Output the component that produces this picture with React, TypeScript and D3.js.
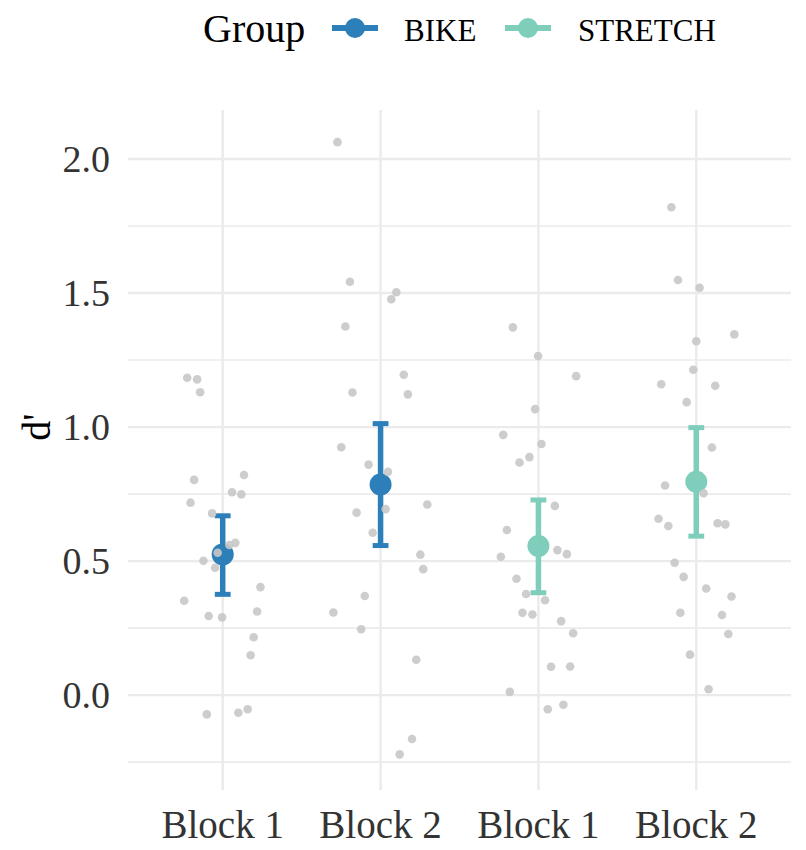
import * as d3 from "d3";

const WIDTH = 806;
const HEIGHT = 850;

const groups = ["BIKE", "STRETCH"];
const groupColors = ["#2c7fb8", "#7fcdbb"];

// one x slot per group x block, in plot order
const slots = ["BIKE-Block 1", "BIKE-Block 2", "STRETCH-Block 1", "STRETCH-Block 2"];
const slotLabels = ["Block 1", "Block 2", "Block 1", "Block 2"];
const slotGroup = ["BIKE", "BIKE", "STRETCH", "STRETCH"];

// summary values
const means = [0.525, 0.786, 0.556, 0.796];
const lower = [0.376, 0.558, 0.382, 0.593];
const upper = [0.669, 1.013, 0.728, 0.998];

// raw d' values per slot
const bikeBlock1 = [1.184, 1.178, 1.13, 0.803, 0.821, 0.757, 0.749, 0.718, 0.678, 0.568, 0.56, 0.531, 0.501, 0.475, 0.403, 0.352, 0.295, 0.29, 0.312, 0.216, 0.149, -0.072, -0.066, -0.053];
const bikeBlock2 = [2.063, 1.542, 1.503, 1.477, 1.375, 1.129, 1.195, 1.122, 0.925, 0.86, 0.833, 0.694, 0.681, 0.711, 0.606, 0.524, 0.47, 0.37, 0.308, 0.246, 0.132, -0.164, -0.221];
const stretchBlock1 = [1.372, 1.265, 1.19, 1.067, 0.971, 0.937, 0.888, 0.868, 0.706, 0.616, 0.541, 0.526, 0.516, 0.434, 0.377, 0.354, 0.307, 0.301, 0.276, 0.231, 0.106, 0.107, 0.012, -0.036, -0.053];
const stretchBlock2 = [1.82, 1.549, 1.52, 1.346, 1.32, 1.214, 1.16, 1.154, 1.093, 0.924, 0.782, 0.753, 0.658, 0.631, 0.641, 0.637, 0.494, 0.441, 0.398, 0.368, 0.307, 0.299, 0.228, 0.151, 0.022];

// horizontal jitter, as a fraction of the slot step
const jitBike1 = [-0.225, -0.162, -0.143, -0.181, 0.135, 0.059, 0.118, -0.204, -0.067, 0.08, 0.042, -0.032, -0.122, -0.048, 0.239, -0.244, -0.089, -0.004, 0.218, 0.196, 0.177, -0.101, 0.099, 0.158];
const jitBike2 = [-0.273, -0.194, 0.1, 0.068, -0.223, -0.178, 0.147, 0.173, -0.249, -0.076, 0.047, 0.032, -0.152, 0.296, -0.05, 0.252, 0.27, -0.1, -0.299, -0.123, 0.226, 0.199, 0.121];
const jitStretch1 = [-0.162, -0.002, 0.239, -0.021, -0.223, 0.019, -0.057, -0.12, 0.104, -0.2, 0.12, 0.18, -0.238, -0.139, -0.078, 0.042, -0.101, -0.038, 0.144, 0.22, 0.08, 0.201, -0.181, 0.158, 0.059];
const jitStretch2 = [-0.158, -0.116, 0.021, 0.241, 0, -0.019, -0.222, 0.12, -0.061, 0.099, -0.198, 0.046, -0.239, -0.177, 0.135, 0.184, -0.137, -0.08, 0.063, 0.223, -0.101, 0.163, 0.203, -0.04, 0.078];

const rawValues = [bikeBlock1, bikeBlock2, stretchBlock1, stretchBlock2];
const rawJitter = [jitBike1, jitBike2, jitStretch1, jitStretch2];

const yTicks = [0, 0.5, 1, 1.5, 2];
const yMinor = [-0.25, 0.25, 0.75, 1.25, 1.75];

const FONT = "'Liberation Serif', 'Times New Roman', serif";
const PANEL = { left: 128, right: 791, top: 110, bottom: 790 };

export default function App() {
  const x = d3
    .scalePoint<string>()
    .domain(slots)
    .range([PANEL.left, PANEL.right])
    .padding(0.6);
  const step = x.step();

  const y = d3.scaleLinear().domain([-0.354, 2.183]).range([PANEL.bottom, PANEL.top]);

  const color = d3.scaleOrdinal<string, string>().domain(groups).range(groupColors);

  const capHalf = step * 0.05;

  return (
    <svg width={WIDTH} height={HEIGHT} style={{ position: "absolute", left: 0, top: 0 }} fontFamily={FONT}>
      <rect width={WIDTH} height={HEIGHT} fill="#ffffff" />

      {/* grid */}
      <g>
        {yMinor.map((t) => (
          <line key={"mi" + t} x1={PANEL.left} x2={PANEL.right} y1={y(t)} y2={y(t)} stroke="#ebebeb" strokeWidth={1.6} />
        ))}
        {yTicks.map((t) => (
          <line key={"ma" + t} x1={PANEL.left} x2={PANEL.right} y1={y(t)} y2={y(t)} stroke="#ebebeb" strokeWidth={2.4} />
        ))}
        {slots.map((s) => (
          <line key={"v" + s} x1={x(s)} x2={x(s)} y1={PANEL.top} y2={PANEL.bottom} stroke="#ebebeb" strokeWidth={2.4} />
        ))}
      </g>

      {/* y axis */}
      <g>
        {yTicks.map((t) => (
          <text key={"yt" + t} x={PANEL.left - 18} y={y(t)} dy="0.35em" textAnchor="end" fontSize={38} fill="#333333">
            {d3.format(".1f")(t)}
          </text>
        ))}
        <text transform={`translate(50, ${y(1)}) rotate(-90)`} textAnchor="middle" fontSize={40} fill="#000">
          d'
        </text>
      </g>

      {/* x axis */}
      <g>
        {slots.map((s, i) => (
          <text key={"xt" + s} x={x(s)} y={838} textAnchor="middle" fontSize={39} fill="#333333">
            {slotLabels[i]}
          </text>
        ))}
      </g>

      {/* mean and error bars */}
      <g>
        {slots.map((s, i) => {
          const cx = x(s)!;
          const c = color(slotGroup[i]);
          return (
            <g key={"m" + s}>
              <line x1={cx} x2={cx} y1={y(lower[i])} y2={y(upper[i])} stroke={c} strokeWidth={5.5} />
              <line x1={cx - capHalf} x2={cx + capHalf} y1={y(lower[i])} y2={y(lower[i])} stroke={c} strokeWidth={5} />
              <line x1={cx - capHalf} x2={cx + capHalf} y1={y(upper[i])} y2={y(upper[i])} stroke={c} strokeWidth={5} />
              <circle cx={cx} cy={y(means[i])} r={11} fill={c} />
            </g>
          );
        })}
      </g>

      {/* raw points */}
      <g>
        {slots.map((s, i) =>
          rawValues[i].map((v, j) => (
            <circle
              key={s + j}
              cx={x(s)! + rawJitter[i][j] * step}
              cy={y(v)}
              r={4.3}
              fill="#c8c8c8"
              fillOpacity={0.9}
            />
          ))
        )}
      </g>

      {/* legend */}
      <g>
        <text x={203} y={42} fontSize={40} fill="#000">
          Group
        </text>
        {groups.map((g, i) => {
          const kx = [355, 528][i];
          const tx = [404, 578][i];
          return (
            <g key={"lg" + g}>
              <line x1={kx - 23} x2={kx + 23} y1={28} y2={28} stroke={color(g)} strokeWidth={6} />
              <circle cx={kx} cy={28} r={10} fill={color(g)} />
              <text x={tx} y={41} fontSize={31} fill="#000">
                {g}
              </text>
            </g>
          );
        })}
      </g>
    </svg>
  );
}
